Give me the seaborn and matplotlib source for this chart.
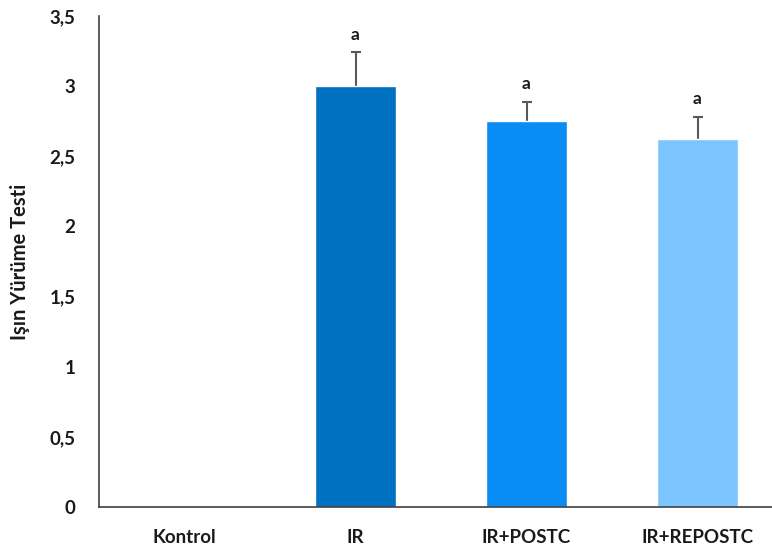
import matplotlib
matplotlib.use("Agg")
import matplotlib.pyplot as plt
import seaborn as sns
import pandas as pd
from matplotlib.ticker import FuncFormatter, MultipleLocator

categories = ["Kontrol", "IR", "IR+POSTC", "IR+REPOSTC"]
means = [0.0, 3.0, 2.75, 2.62]
errors = [0.0, 0.24, 0.14, 0.16]
letters = ["", "a", "a", "a"]
colors = ["#0070C0", "#0070C0", "#0A8CF5", "#7CC5FF"]

sns.set_theme(style="white")
plt.rcParams['font.family'] = ['Lato', 'DejaVu Sans']

df = pd.DataFrame({"grp": categories, "val": means})

fig = plt.figure(figsize=(7.72, 5.47), dpi=100)
W, H = 772, 547
slot = 171
left_px, top_px, bot_px = 99, 16, 507
ax = fig.add_axes([left_px / W, 1 - bot_px / H, 4 * slot / W, (bot_px - top_px) / H])

sns.barplot(data=df, x="grp", y="val", hue="grp", palette=colors, order=categories,
            width=0.474, legend=False, ax=ax, errorbar=None, saturation=1, zorder=2)

xs = range(len(categories))
for x, m, e, l in zip(xs, means, errors, letters):
    if e > 0:
        ax.errorbar(x, m, yerr=e, fmt="none", ecolor="#595959",
                    elinewidth=1.5, capsize=3.5, capthick=1.5, zorder=1)
    if l:
        ax.text(x, m + e + 0.07, l, ha="center", va="bottom", fontsize=12.5,
                fontweight="bold", color="#1a1a1a")

ax.set_ylim(0, 3.5)
ax.set_xlim(-0.5, 3.5)
ax.yaxis.set_major_locator(MultipleLocator(0.5))
ax.yaxis.set_major_formatter(FuncFormatter(lambda v, p: ("%g" % v).replace(".", ",")))
ax.set_xlabel("")
ax.set_ylabel("Işın Yürüme Testi", fontsize=14.5, fontweight="bold", color="#1a1a1a", labelpad=14)
ax.tick_params(axis="both", length=0, labelsize=13.5, colors="#1a1a1a")
ax.tick_params(axis="y", pad=17)
ax.tick_params(axis="x", pad=16)
for lab in ax.get_xticklabels() + ax.get_yticklabels():
    lab.set_fontweight("bold")
for s in ["top", "right"]:
    ax.spines[s].set_visible(False)
for s in ["left", "bottom"]:
    ax.spines[s].set_color("#404040")
    ax.spines[s].set_linewidth(1.2)

fig.savefig("out.png", dpi=100)
